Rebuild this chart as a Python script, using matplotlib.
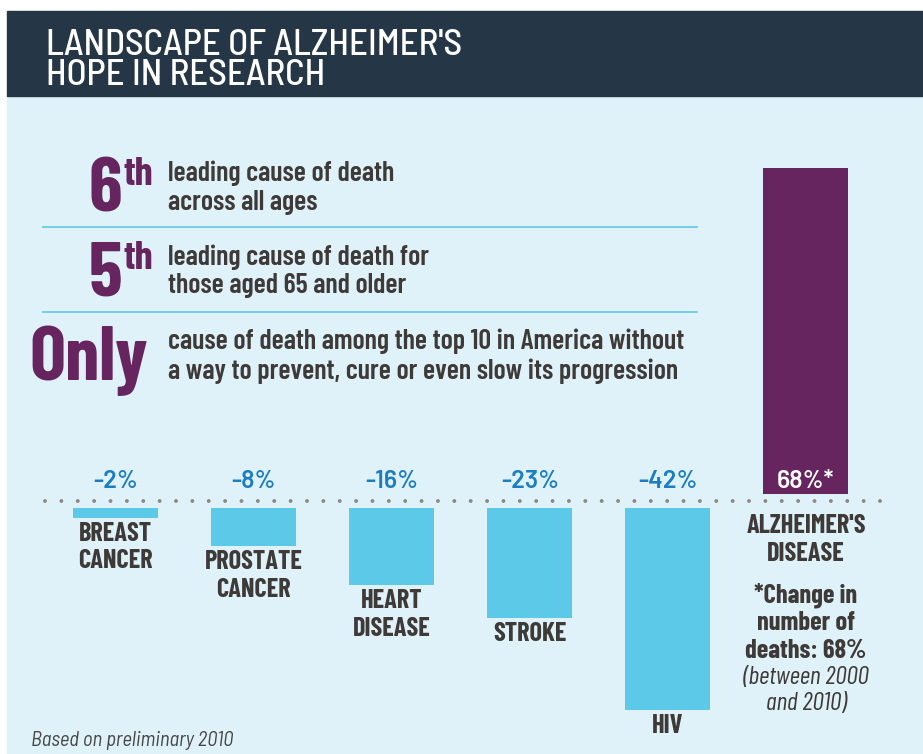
import matplotlib
matplotlib.use("Agg")
import matplotlib.pyplot as plt
from matplotlib.patches import Rectangle

# data
categories = ["BREAST\nCANCER", "PROSTATE\nCANCER", "HEART\nDISEASE", "STROKE", "HIV", "ALZHEIMER'S\nDISEASE"]
change = [-2, -8, -16, -23, -42, 68]
value_labels = ["-2%", "-8%", "-16%", "-23%", "-42%", "68%*"]

title = "LANDSCAPE OF ALZHEIMER'S\nHOPE IN RESEARCH"
facts_big = ["6", "5", "Only"]
facts_sup = ["th", "th", ""]
facts_text = ["leading cause of death\nacross all ages",
              "leading cause of death for\nthose aged 65 and older",
              "cause of death among the top 10 in America without\n"
              "a way to prevent, cure or even slow its progression"]
note_bold = "*Change in\nnumber of\ndeaths: 68%"
note_italic = "(between 2000\nand 2010)"
footnote = "Based on preliminary 2010"

# colours
header_col = "#253646"
bg_col = "#e0f2f9"
purple = "#67255f"
bar_col = "#5bc9e7"
blue_txt = "#1b7dc2"
dark = "#3d3a37"
sep_col = "#6ccbe6"

cond = ["Barlow Condensed", "Liberation Sans Narrow", "DejaVu Sans"]
semi = ["Barlow Semi Condensed", "Liberation Sans Narrow", "DejaVu Sans"]
plain = ["Barlow", "Lato", "DejaVu Sans"]

fig = plt.figure(figsize=(9.23, 7.54), dpi=100)
fig.patch.set_facecolor("white")

# background axes in pixel units
bg = fig.add_axes([0, 0, 1, 1])
bg.set_xlim(0, 923)
bg.set_ylim(754, 0)
bg.axis("off")
bg.add_patch(Rectangle((7, 96), 916, 658, color=bg_col, zorder=0))
bg.add_patch(Rectangle((7, 11), 916, 85, color=header_col, zorder=0))

bg.text(46, 29, title, color="white", fontsize=26.5, fontweight=500, family=semi,
        va="top", ha="left", linespacing=0.88)

# fact block
big_base = [211, 295, 380]
sup_base = [185, 269, 0]
text_top = [161, 244, 329]
for i in range(3):
    right = 122 if facts_sup[i] else 148
    bg.text(right, big_base[i], facts_big[i], color=purple, fontsize=55, fontweight=700,
            family=cond, ha="right", va="baseline")
    if facts_sup[i]:
        bg.text(123, sup_base[i], facts_sup[i], color=purple, fontsize=29, fontweight=700,
                family=cond, ha="left", va="baseline")
    bg.text(168, text_top[i], facts_text[i], color=dark, fontsize=20.2, fontweight=600,
            family=cond, ha="left", va="top", linespacing=1.19)
for y in [227, 312]:
    bg.plot([43, 697], [y, y], color=sep_col, lw=1.3)

bg.text(31, 746, footnote, color="#474747", fontsize=14.8, style="italic",
        family=semi, ha="left", va="baseline")

# bar axes
s = 4.8          # pixels per percentage point
gap = 7 / s
ax = fig.add_axes([46.5 / 923, 0, (875 - 46.5) / 923, 658 / 754])
ax.set_xlim(-0.5, 5.5)
ax.set_ylim(-253 / s, 405 / s)
ax.axis("off")
ax.patch.set_alpha(0)

x = list(range(len(categories)))
bottoms = [gap if v > 0 else -gap for v in change]
colors = [purple if v > 0 else bar_col for v in change]
ax.bar(x, change, bottom=bottoms, width=0.616, color=colors, zorder=2)

ax.plot([-0.511, 5.54], [0, 0], color="#8a8785", lw=2.8, linestyle=(0, (0.01, 4.2)),
        dash_capstyle="round", clip_on=False, zorder=1)

for i, v in enumerate(change):
    col = "white" if v > 0 else blue_txt
    ax.text(i, 13 / s, value_labels[i], color=col, fontsize=18, fontweight=600,
            family=plain, ha="center", va="baseline", zorder=3)
    if v < 0:
        top = v - gap - 4 / s
    else:
        top = -13 / s
    ax.text(i, top, categories[i], color=dark, fontsize=19, fontweight=700,
            family=cond, ha="center", va="top", linespacing=1.2)

alz = len(categories) - 1
ax.text(alz, -81 / s, note_bold, color=dark, fontsize=19, fontweight=700,
        family=cond, ha="center", va="top", linespacing=1.2)
ax.text(alz, -165 / s, note_italic, color=dark, fontsize=18.5, style="italic",
        family=cond, ha="center", va="top", linespacing=1.17)

fig.savefig("out.png", dpi=100, facecolor=fig.get_facecolor())
